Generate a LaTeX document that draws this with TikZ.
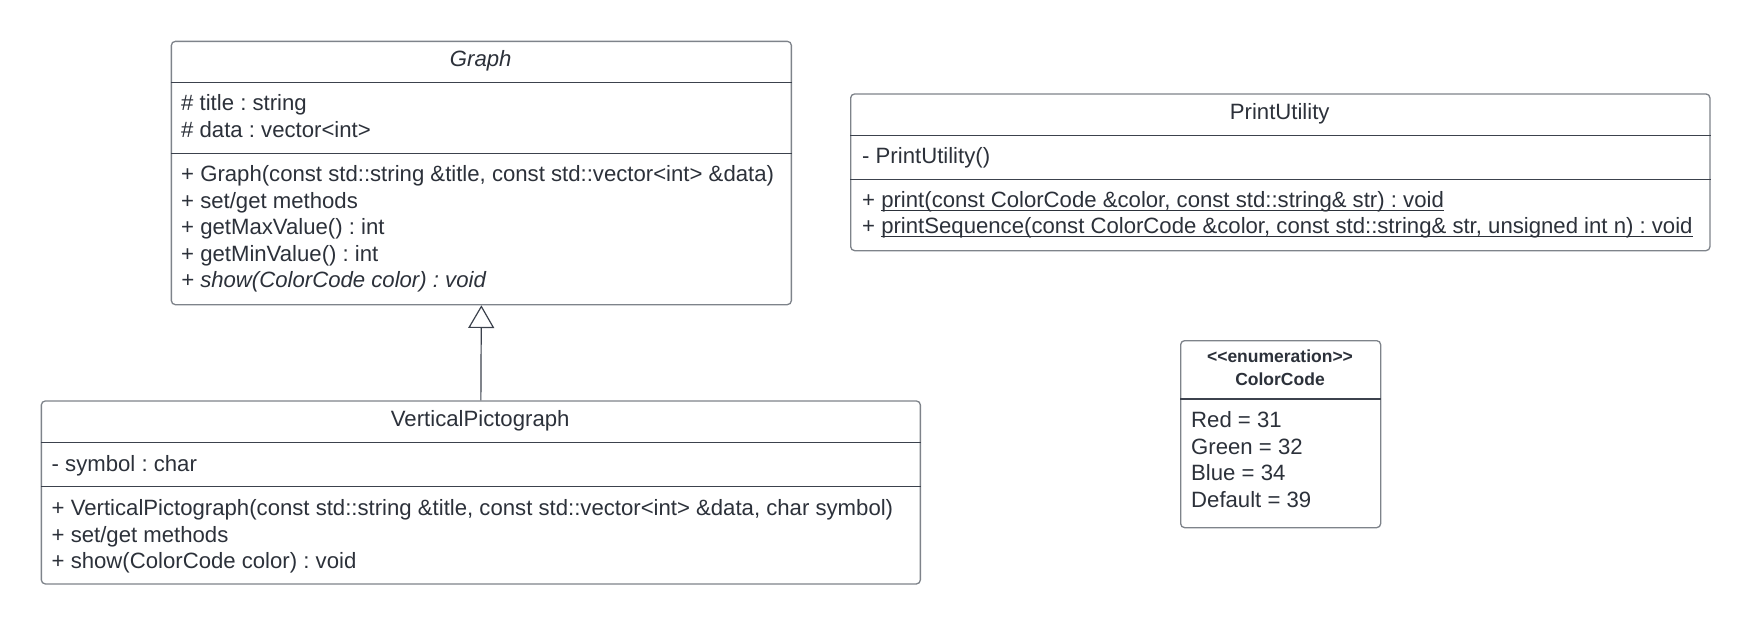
\documentclass[tikz,border=0pt]{standalone}
\usepackage{fontspec}
\setmainfont{Liberation Sans}
\usetikzlibrary{arrows.meta}
\frenchspacing
\newsavebox\ulbox
\newcommand\ulinetext[1]{\sbox\ulbox{#1}\rlap{\rule[-3.2pt]{\wd\ulbox}{1.2pt}}\usebox\ulbox}
\definecolor{txtc}{HTML}{2C313A}
\definecolor{sepc}{HTML}{3C424D}
\definecolor{brdc}{HTML}{7E838A}
\begin{document}
\frenchspacing
\begin{tikzpicture}[x=1pt,y=-1pt,
  umlbox/.style={draw=brdc, line width=1.3pt, rounded corners=4pt, fill=white, inner sep=0pt, anchor=north west},
  sepline/.style={draw=sepc, line width=1.3pt},
  txt/.style={anchor=west, inner sep=0pt, text=txtc, font=\fontsize{22.15}{26}\selectfont, text height=16pt, text depth=5pt},
  ttl/.style={txt, anchor=center},
  hdr/.style={anchor=center, inner sep=0pt, text=txtc, font=\fontsize{17.5}{21}\selectfont\bfseries},
  gen/.style={draw=sepc, line width=1.2pt, -{Triangle[open, width=26pt, length=22.7pt]}}
]
\useasboundingbox (0,0) rectangle (1750,624);

% ---------- Graph ----------
\node[umlbox, minimum width=620pt, minimum height=263.3pt] (graph) at (170.7,40.7) {};
\draw[sepline] ([yshift=-41.6pt]graph.north west) -- ([yshift=-41.6pt]graph.north east);
\draw[sepline] ([yshift=-112.6pt]graph.north west) -- ([yshift=-112.6pt]graph.north east);
\node[ttl] (g-t) at (480.7,60.5) {\itshape Graph};
\node[txt] (g-a1) at (181,105) {\# title : string};
\node[txt] (g-a2) at (181,131.5) {\# data : vector<int>};
\node[txt] (g-m1) at (181,176) {+ Graph(const std::string \&title, const std::vector<int> \&data)};
\node[txt] (g-m2) at (181,202.5) {+ set/get methods};
\node[txt] (g-m3) at (181,229) {+ getMaxValue() : int};
\node[txt] (g-m4) at (181,255.5) {+ getMinValue() : int};
\node[txt] (g-m5) at (181,282) {\itshape + show(ColorCode color) : void};

% ---------- PrintUtility ----------
\node[umlbox, minimum width=859.3pt, minimum height=156.7pt] (pu) at (850,93.3) {};
\draw[sepline] ([yshift=-42.4pt]pu.north west) -- ([yshift=-42.4pt]pu.north east);
\draw[sepline] ([yshift=-86.3pt]pu.north west) -- ([yshift=-86.3pt]pu.north east);
\node[ttl] (pu-t) at (1279.7,113.5) {PrintUtility};
\node[txt] (pu-a1) at (862,158) {- PrintUtility()};
\node[txt] (pu-m1) at (862,202) {+ \ulinetext{print(const ColorCode \&color, const std::string\& str) : void}};
\node[txt] (pu-m2) at (862,228) {+ \ulinetext{printSequence(const ColorCode \&color, const std::string\& str, unsigned int n) : void}};

% ---------- VerticalPictograph ----------
\node[umlbox, minimum width=879pt, minimum height=183pt] (vp) at (40.7,400.3) {};
\draw[sepline] ([yshift=-42pt]vp.north west) -- ([yshift=-42pt]vp.north east);
\draw[sepline] ([yshift=-86.4pt]vp.north west) -- ([yshift=-86.4pt]vp.north east);
\node[ttl] (vp-t) at (480.2,421) {VerticalPictograph};
\node[txt] (vp-a1) at (51.5,465.5) {- symbol : char};
\node[txt] (vp-m1) at (51.5,510) {+ VerticalPictograph(const std::string \&title, const std::vector<int> \&data, char symbol)};
\node[txt] (vp-m2) at (51.5,536.5) {+ set/get methods};
\node[txt] (vp-m3) at (51.5,563) {+ show(ColorCode color) : void};

% ---------- ColorCode ----------
\node[umlbox, minimum width=200pt, minimum height=187pt] (cc) at (1180,340) {};
\draw[sepline] ([yshift=-59pt]cc.north west) -- ([yshift=-59pt]cc.north east);
\node[hdr] (cc-s) at (1280,356.5) {<\kern0pt<enumeration>\kern0pt>};
\node[hdr] (cc-n) at (1280,379.5) {ColorCode};
\node[txt] (cc-v1) at (1191,422) {Red = 31};
\node[txt] (cc-v2) at (1191,448.5) {Green = 32};
\node[txt] (cc-v3) at (1191,475) {Blue = 34};
\node[txt] (cc-v4) at (1191,501.5) {Default = 39};

% ---------- generalization ----------
\draw[gen] (vp.north) -- (graph.south);
\end{tikzpicture}
\end{document}
